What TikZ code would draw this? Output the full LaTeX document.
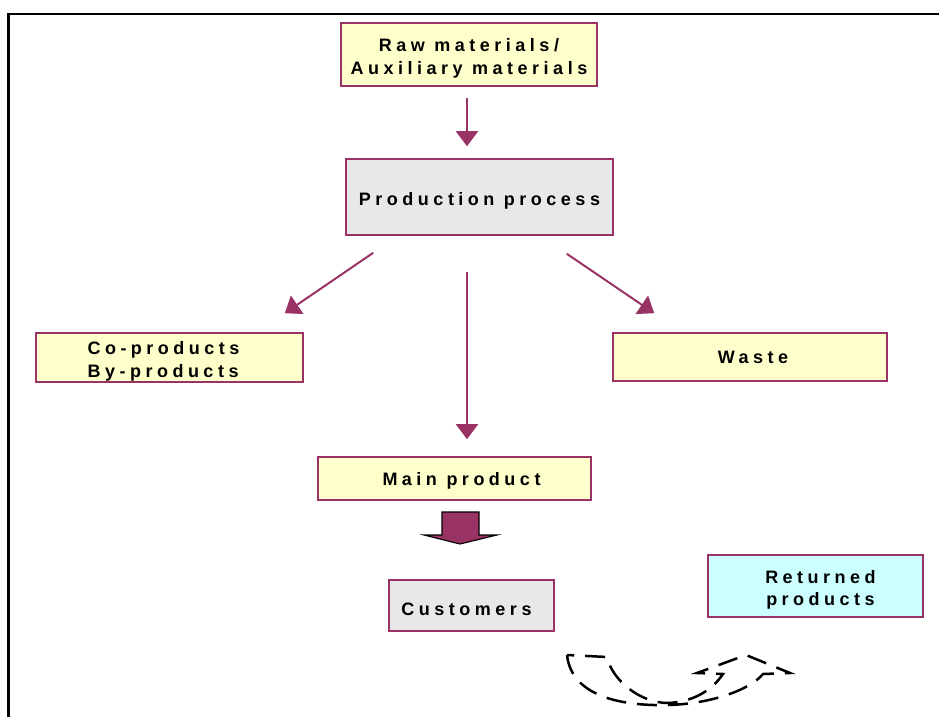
\documentclass[tikz,border=0pt]{standalone}
\usepackage{fontspec}
\setmainfont{Liberation Sans}
\newfontfamily\boxfont[LetterSpace=25]{Liberation Sans}
\usetikzlibrary{arrows.meta,calc}
\definecolor{plum}{HTML}{993366}
\definecolor{paleyellow}{HTML}{FFFFCC}
\definecolor{palegray}{HTML}{E8E8E8}
\definecolor{palecyan}{HTML}{CCFFFF}
\newcommand\lowerstrut{\rule{0pt}{21pt}}
\tikzset{
  box/.style={draw=plum, line width=1.6pt, align=center, inner sep=0pt,
    font=\boxfont\bfseries\fontsize{18}{22.5}\selectfont},
  yellowbox/.style={box, fill=paleyellow},
  graybox/.style={box, fill=palegray},
  cyanbox/.style={box, fill=palecyan},
  conn/.style={draw=plum, line width=2pt, -{Triangle[length=15pt,width=22pt]}},
  frameline/.style={draw=black, line width=2.8pt},
  blockarrow/.style={draw=black, line width=1.1pt, fill=plum, line join=miter},
  returnloop/.style={draw=black, line width=2.5pt, dash pattern=on 20pt off 11pt}
}
\begin{document}
\begin{tikzpicture}[x=1pt,y=-1pt]
\useasboundingbox (0,0) rectangle (939,717);
% frame
\coordinate (fa) at (939,14);
\coordinate (fb) at (8.5,14);
\coordinate (fc) at (8.5,717);
\draw[frameline] (fa) -- (fb) -- (fc);

% nodes
\node[yellowbox, minimum width=256pt, minimum height=63pt] (raw) at (469,54.5) {\lowerstrut Raw materials/\\Auxiliary materials};
\node[graybox, minimum width=267pt, minimum height=76pt] (prod) at (479.5,197) {\lowerstrut Production process};
\node[yellowbox, minimum width=267pt, minimum height=49pt, align=left] (co) at (169.5,357.5) {\lowerstrut Co-products\hspace*{12pt}\\By-products};
\node[yellowbox, minimum width=274pt, minimum height=48pt] (waste) at (750,357) {\hspace*{6pt}Waste};
\node[yellowbox, minimum width=273pt, minimum height=43pt] (main) at (454.5,478.5) {\rule{0pt}{17pt}\hspace*{14pt}Main product};
\node[graybox, minimum width=165pt, minimum height=51pt] (cust) at (471.5,605.5) {\lowerstrut Customers\hspace*{10pt}};
\node[cyanbox, minimum width=215pt, minimum height=62pt] (ret) at (815.5,586) {\lowerstrut\hspace*{10pt}Returned\\\hspace*{10pt}products};

% connectors
\draw[conn] ($(raw.south)+(-2,11)$) -- ($(raw.south |- prod.north)+(-2,-12)$);
\draw[conn] ($(prod.south west)+(28,17)$) -- ($(co.north east)+(-19,-19)$);
\draw[conn] ($(prod.south east)+(-47,18)$) -- ($(waste.north west)+(42,-19)$);
\draw[conn] ($(prod.south)+(-12.5,36)$) -- ($(main.north)+(12.5,-17)$);

% block arrow main -> customers
\draw[blockarrow] (442,512) -- (479,512) -- (479,535) -- (497,535) -- (460,544) -- (424,535) -- (442,535) -- cycle;

% dashed curved return arrow
\draw[returnloop] (567,655) .. controls (572,700) and (630,706) .. (668,705)
  .. controls (710,704) and (750,690) .. (763,674) -- (790,673) -- (746,655) -- (697,673) -- (723,674)
  .. controls (710,693) and (690,702) .. (668,703)
  .. controls (640,703) and (612,680) .. (607,657) -- cycle;
\end{tikzpicture}
\end{document}
